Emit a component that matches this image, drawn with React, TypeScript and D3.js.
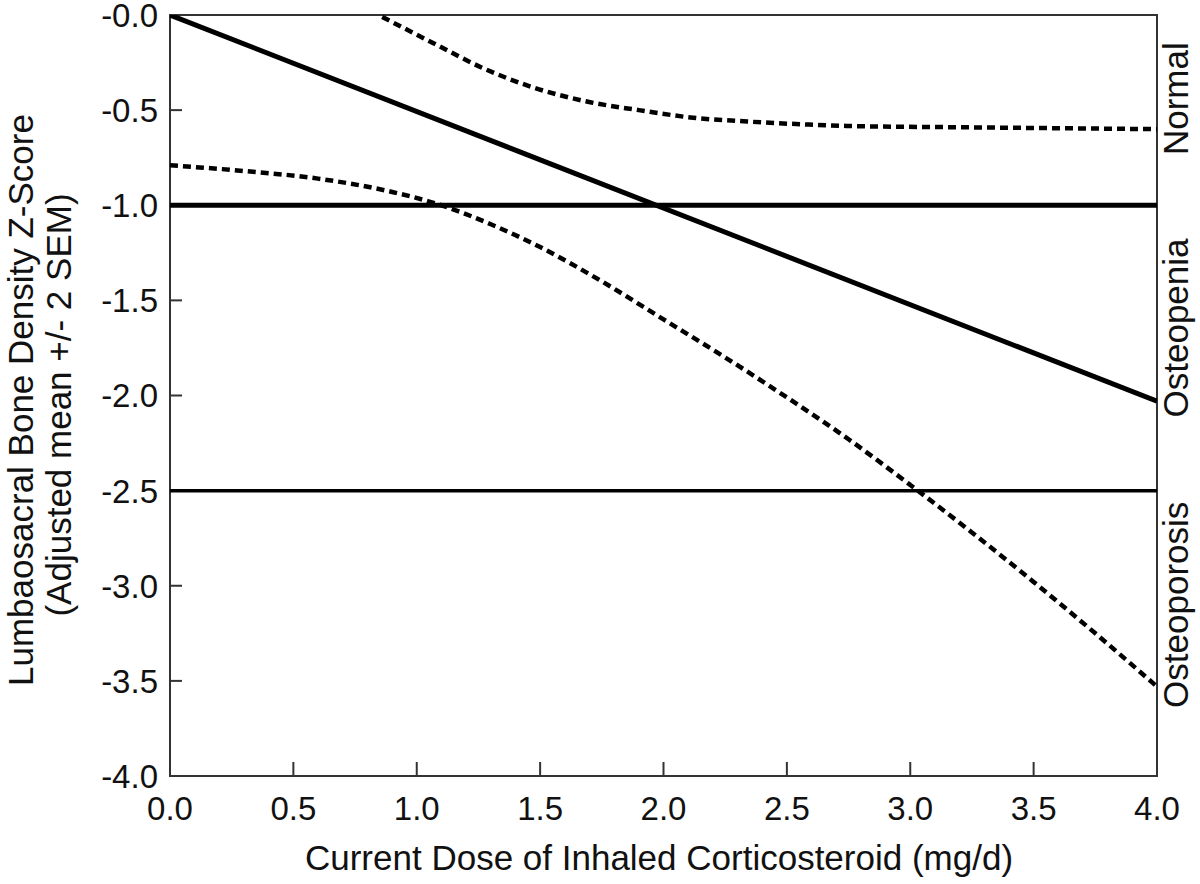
import React from "react";
import * as d3 from "d3";

const xTicks = [0, 0.5, 1, 1.5, 2, 2.5, 3, 3.5, 4];
const yTicks = [0, -0.5, -1, -1.5, -2, -2.5, -3, -3.5, -4];
const xTickLabels = ["0.0", "0.5", "1.0", "1.5", "2.0", "2.5", "3.0", "3.5", "4.0"];
const yTickLabels = ["-0.0", "-0.5", "-1.0", "-1.5", "-2.0", "-2.5", "-3.0", "-3.5", "-4.0"];
const meanX = [0, 4];
const meanY = [0, -2.03];
const upperX = [0.86, 1.07, 1.27, 1.47, 1.69, 1.9, 2.12, 2.34, 2.57, 2.74, 3.2, 3.6, 4.0];
const upperY = [-0.01, -0.15, -0.28, -0.38, -0.455, -0.5, -0.54, -0.56, -0.575, -0.583, -0.59, -0.595, -0.6];
const lowerX = [0, 0.3, 0.6, 0.9, 1.1, 1.3, 1.5, 1.75, 2.0, 2.25, 2.5, 2.75, 3.0, 3.25, 3.5, 3.75, 4.0];
const lowerY = [-0.79, -0.82, -0.86, -0.93, -1.0, -1.1, -1.22, -1.4, -1.6, -1.8, -2.01, -2.23, -2.47, -2.72, -2.98, -3.25, -3.53];
const thresholds = [-1.0, -2.5];
const bandLabels = ["Normal", "Osteopenia", "Osteoporosis"];
const bandLabelCenters = [-0.44, -1.645, -3.1];

const W = 1200;
const H = 884;
const L = 170, R = 1157, T = 15, B = 776;
const FONT = "'Liberation Sans', Arial, Helvetica, sans-serif";

export default function App() {
  const x = d3.scaleLinear().domain([0, 4]).range([L, R]);
  const y = d3.scaleLinear().domain([0, -4]).range([T, B]);
  const line = d3
    .line<[number, number]>()
    .x((d) => x(d[0]))
    .y((d) => y(d[1]))
    .curve(d3.curveMonotoneX);
  const zip = (a: number[], b: number[]) => a.map((v, i) => [v, b[i]] as [number, number]);

  return (
    <svg
      width={W}
      height={H}
      style={{ position: "absolute", left: 0, top: 0, background: "#fff" }}
      fontFamily={FONT}
    >
      <rect x={0} y={0} width={W} height={H} fill="#fff" />
      <defs>
        <clipPath id="plot">
          <rect x={L} y={T} width={R - L} height={B - T} />
        </clipPath>
      </defs>
      {xTicks.map((t) => (
        <line key={"xt" + t} x1={x(t)} x2={x(t)} y1={B} y2={B - 14} stroke="#333" strokeWidth={2} />
      ))}
      {yTicks.map((t) => (
        <line key={"yt" + t} x1={L} x2={L + 12} y1={y(t)} y2={y(t)} stroke="#333" strokeWidth={2} />
      ))}
      <rect x={L} y={T} width={R - L} height={B - T} fill="none" stroke="#333" strokeWidth={2} />
      <g clipPath="url(#plot)">
        {thresholds.map((t, i) => (
          <line
            key={"th" + t}
            x1={L}
            x2={R}
            y1={y(t)}
            y2={y(t)}
            stroke="#000"
            strokeWidth={i === 0 ? 5 : 3.5}
          />
        ))}
        <path d={line(zip(meanX, meanY)) || ""} fill="none" stroke="#000" strokeWidth={5} />
        <path
          d={line(zip(upperX, upperY)) || ""}
          fill="none"
          stroke="#000"
          strokeWidth={4.5}
          strokeDasharray="8,5"
        />
        <path
          d={line(zip(lowerX, lowerY)) || ""}
          fill="none"
          stroke="#000"
          strokeWidth={4.5}
          strokeDasharray="8,5"
        />
      </g>
      {xTicks.map((t, i) => (
        <text key={"xl" + t} x={x(t)} y={820} textAnchor="middle" fontSize={33} fill="#111">
          {xTickLabels[i]}
        </text>
      ))}
      {yTicks.map((t, i) => (
        <text
          key={"yl" + t}
          x={158}
          y={y(t)}
          dy="0.36em"
          textAnchor="end"
          fontSize={33}
          fill="#111"
        >
          {yTickLabels[i]}
        </text>
      ))}
      <text x={659} y={870} textAnchor="middle" fontSize={35} fill="#111">
        Current Dose of Inhaled Corticosteroid (mg/d)
      </text>
      <g transform={`translate(33, 400) rotate(-90)`}>
        <text x={0} y={0} textAnchor="middle" fontSize={35} fill="#111">
          Lumbaosacral Bone Density Z-Score
        </text>
        <text x={-5} y={38} textAnchor="middle" fontSize={35} fill="#111">
          (Adjusted mean +/- 2 SEM)
        </text>
      </g>
      {bandLabels.map((lab, i) => (
        <text
          key={lab}
          transform={`translate(1188, ${y(bandLabelCenters[i])}) rotate(-90)`}
          textAnchor="middle"
          fontSize={35}
          fill="#111"
        >
          {lab}
        </text>
      ))}
    </svg>
  );
}
